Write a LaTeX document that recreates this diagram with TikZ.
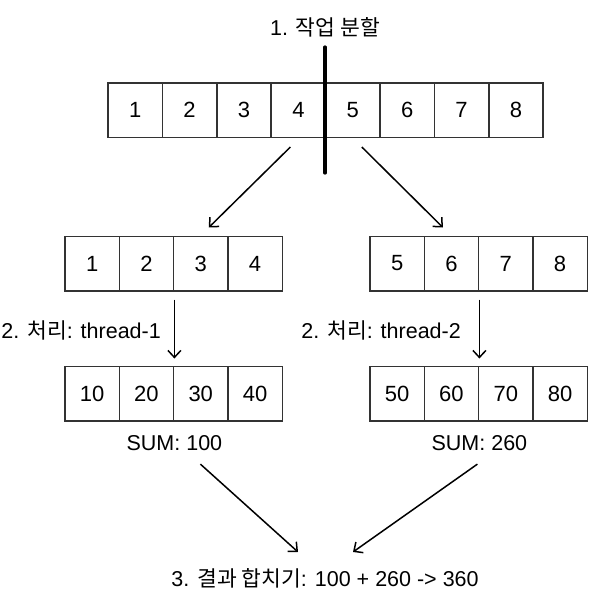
\documentclass[tikz,border=0pt]{standalone}
\usepackage{fontspec}
\setmainfont{Liberation Sans}
\newfontfamily\kr{Noto Sans CJK KR}
\usetikzlibrary{positioning,arrows.meta}
\tikzset{
  cell/.style={draw=black!80, line width=1.5pt, minimum width=54.4pt, minimum height=54.5pt, inner sep=0pt, font=\fontsize{22}{24}\selectfont},
  lbl/.style={inner sep=0pt, font=\fontsize{21.5}{24}\selectfont},
  arr/.style={-{Straight Barb[length=7pt,width=13pt]}, line width=1.5pt},
}
\begin{document}
\begin{tikzpicture}[x=1pt,y=-1pt]
  \useasboundingbox (0,0) rectangle (600,595);
  % 1. split the work
  \node[lbl] (title) at (325,27) {1. {\kr 작업 분할}};
  \foreach \i in {1,...,8}
    \node[cell] (t\i) at ({108+54.4*(\i-0.5)},110) {\i};
  \draw[line width=3.2pt, line cap=round] (325,47) -- (325,173); % divider
  % halves
  \foreach \v [count=\i] in {1,2,3,4}
    \node[cell] (a\i) at ({65+54.3*(\i-0.5)},263.5) {\v};
  \foreach \v [count=\i] in {5,6,7,8}
    \node[cell] (b\i) at ({370+54.3*(\i-0.5)},263.5) {\v};
  \draw[arr] ([xshift=-8pt,yshift=-9pt]t4.south) -- ([xshift=8pt,yshift=8pt]a3.north);
  \draw[arr] ([xshift=9pt,yshift=-9pt]t5.south) -- ([xshift=-8.5pt,yshift=8pt]b2.north);
  % 2. threads
  \foreach \v [count=\i] in {10,20,30,40}
    \node[cell] (c\i) at ({65+54.3*(\i-0.5)},393.5) {\v};
  \foreach \v [count=\i] in {50,60,70,80}
    \node[cell] (d\i) at ({370+54.3*(\i-0.5)},393.5) {\v};
  \draw[arr] ([yshift=-8pt]a2.south east) -- ([yshift=7pt]c2.north east);
  \draw[arr] ([yshift=-8pt]b2.south east) -- ([yshift=7pt]d2.north east);
  \node[lbl, anchor=east] (p1) at (161,330) {2. {\kr 처리}: thread-1};
  \node[lbl, anchor=east] (p2) at (461,330) {2. {\kr 처리}: thread-2};
  \node[lbl, below=14pt of c2.south east] (s1) {SUM: 100};
  \node[lbl, below=14pt of d2.south east] (s2) {SUM: 260};
  % 3. merge
  \node[lbl] (res) at (325,578) {3. {\kr 결과 합치기}: 100 + 260 -> 360};
  \draw[arr] ([xshift=26pt,yshift=-13pt]s1.south) -- ([xshift=-27pt,yshift=16pt]res.north);
  \draw[arr] ([xshift=-2pt,yshift=-13pt]s2.south) -- ([xshift=28pt,yshift=16pt]res.north);
\end{tikzpicture}
\end{document}
